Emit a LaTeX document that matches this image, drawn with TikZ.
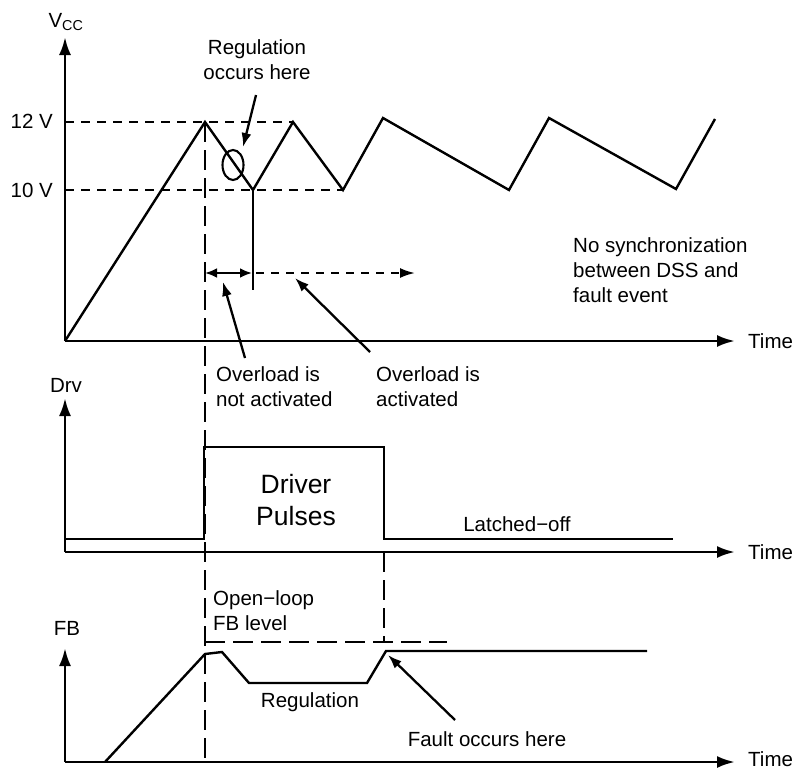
\documentclass[tikz,border=0pt]{standalone}
\usepackage{fontspec}
\setmainfont{Liberation Sans}
\usetikzlibrary{arrows.meta}

\begin{document}
\begin{tikzpicture}[x=1pt, y=-1pt, line join=miter,
    every node/.style={font=\fontsize{20.5}{25}\selectfont, inner sep=0pt},
    axis/.style={line width=2.8pt, -{Latex[length=18pt, width=12pt]}},
    wave/.style={line width=2.4pt},
    guide/.style={line width=2.1pt, dash pattern=on 9pt off 7pt},
    marker/.style={line width=2.3pt, dash pattern=on 20pt off 8pt},
    note/.style={line width=2.3pt, -{Latex[length=14pt, width=10pt]}}]
  \useasboundingbox (0,0) rectangle (795,771);

  % V_CC panel
  \coordinate (vo) at (65,341);
  \draw[axis] (vo) -- (65,37);
  \draw[axis] (vo) -- (735,341);
  \node (vcc) at (66,22) {V\textsubscript{CC}};
  \node (tv) [anchor=west] at (748,341) {Time};
  \node (v12) [anchor=east] at (53,121) {12 V};
  \node (v10) [anchor=east] at (53,190) {10 V};
  \draw[guide] (65,122) -- (293,122);
  \draw[guide] (65,190) -- (343,190);
  \draw[wave] (vo) -- (205,122) -- (253,190) -- (293,122) -- (343,190)
    -- (383,118) -- (509,190) -- (549,118) -- (676,189) -- (715,119);
  \draw[line width=2.1pt] (233,165) ellipse [x radius=10.5pt, y radius=15pt];
  \draw[wave] (253,190) -- (253,290);
  \draw[line width=2.4pt, {Latex[length=12pt, width=10pt]}-{Latex[length=12pt, width=10pt]}] (205,273) -- (252,273);
  \draw[line width=2.1pt, dash pattern=on 8pt off 7pt, -{Latex[length=15pt, width=10pt]}] (256,273) -- (415,273);

  \node (reg) [align=center] at (257,60) {Regulation\\occurs here};
  \node (ovoff) [anchor=west, align=left] at (216,387) {Overload is\\not activated};
  \node (ovon) [anchor=west, align=left] at (376,387) {Overload is\\activated};
  \node (nosync) [anchor=west, align=left] at (573,270) {No synchronization\\between DSS and\\fault event};
  \coordinate (regtail) at (256,95);
  \coordinate (offtail) at (245,358);
  \coordinate (ontail) at (370,352);
  \draw[note] (regtail) -- (243,147);
  \draw[note] (offtail) -- (223,282);
  \draw[note] (ontail) -- (295,278);

  % Drv panel
  \coordinate (do) at (65,552);
  \draw[axis] (do) -- (65,398);
  \draw[axis] (do) -- (735,552);
  \node (drv) at (66,385) {Drv};
  \node (td) [anchor=west] at (748,552) {Time};
  \draw[wave] (65,539) -- (204,539) -- (204,447) -- (384,447) -- (384,539) -- (673,539);
  \node (pulses) [align=center, font=\fontsize{26.5}{32}\selectfont] at (296,500) {Driver\\Pulses};
  \node (latch) at (517,524) {Latched−off};

  % FB panel
  \coordinate (fo) at (65,762);
  \draw[axis] (fo) -- (65,648);
  \draw[axis] (fo) -- (735,762);
  \node (fb) at (67,628) {FB};
  \node (tf) [anchor=west] at (748,759) {Time};
  \node (open) [anchor=west, align=left] at (213,611) {Open−loop\\FB level};
  \draw[marker] (205,642) -- (447,642);
  \draw[wave] (105,762) -- (205,654) -- (222,652) -- (249,683) -- (367,683)
    -- (386,651) -- (647,651);
  \node (regfb) at (310,702) {Regulation};
  \node (fault) at (487,739) {Fault occurs here};
  \coordinate (faulttail) at (455,720);
  \draw[note] (faulttail) -- (388,655);

  % event markers
  \draw[marker] (205,122) -- (205,760);
  \draw[marker] (384,552) -- (384,642);
\end{tikzpicture}
\end{document}
